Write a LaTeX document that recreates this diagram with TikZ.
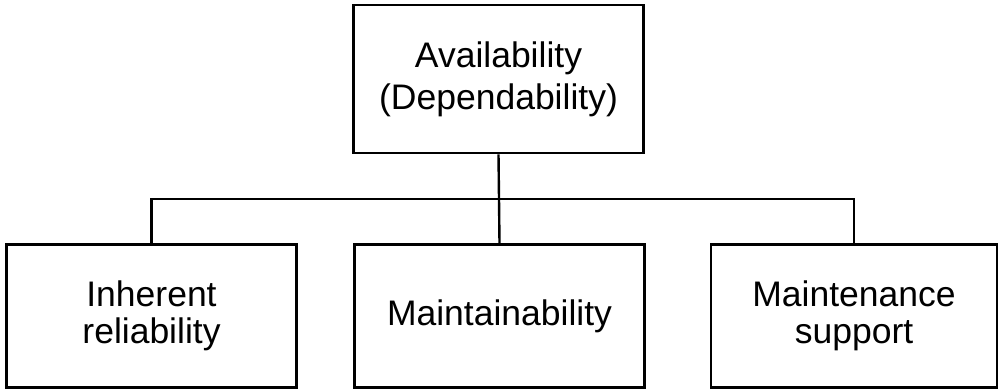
\documentclass[tikz,border=0pt]{standalone}
\usepackage{fontspec}
\setmainfont{Liberation Sans}
\begin{document}
\begin{tikzpicture}[x=1pt,y=-1pt,
  box/.style={draw=black,line width=2.6pt,minimum width=#1,minimum height=143pt,inner sep=0pt,align=center,
    font=\fontsize{35.5}{37}\selectfont},
  link/.style={draw=black,line width=2.4pt}]
\useasboundingbox (0,0) rectangle (1001,390);
\node[box=290pt,minimum height=148pt,font=\fontsize{35.5}{42}\selectfont] (top) at (498.5,79) {Availability\\(Dependability)};
\node[box=290pt] (left) at (151.5,316) {Inherent\\reliability};
\node[box=290pt] (mid) at (499.5,316) {Maintainability};
\node[box=286pt] (right) at (854,316) {Maintenance\\support};
\coordinate (j) at (499.5,199);
\draw[link] (top.south) -- (mid.north);
\draw[link] (left.north) |- (j) -| (right.north);
\end{tikzpicture}
\end{document}
